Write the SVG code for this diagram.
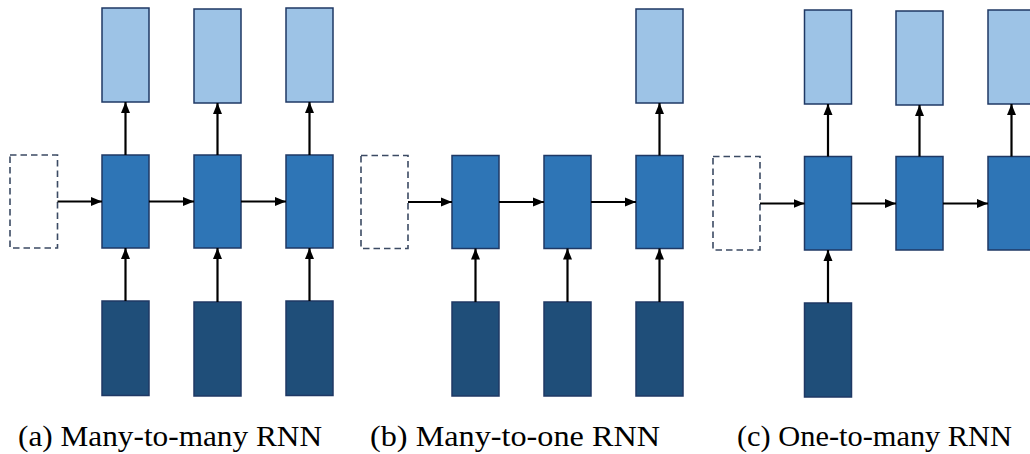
<svg xmlns="http://www.w3.org/2000/svg" width="1030" height="454" viewBox="0 0 1030 454">
  <defs>
    <marker id="arrow" markerUnits="userSpaceOnUse" markerWidth="11" markerHeight="11" viewBox="0 0 11 11" refX="11" refY="5.5" orient="auto">
      <path d="M0,1 L11,5.5 L0,10 Z" fill="#000"/>
    </marker>
    <style>
      .out { fill: #9DC3E6; stroke: #1F3864; stroke-width: 1.5; }
      .hid { fill: #2E75B6; stroke: #1F3864; stroke-width: 1.5; }
      .inp { fill: #1F4E79; stroke: #1F3864; stroke-width: 1.5; }
      .init { fill: #FFFFFF; stroke: #3B4A63; stroke-width: 1.6; stroke-dasharray: 6.5 4; }
      .edge { stroke: #000; stroke-width: 2.2; fill: none; marker-end: url(#arrow); }
      .cap { font-family: "Liberation Serif", "DejaVu Serif", serif; font-size: 29px; fill: #000; }
    </style>
  </defs>
  <rect width="1030" height="454" fill="#FFFFFF"/>

  <!-- (a) many-to-many -->
  <g id="a-init"><rect class="init" x="10" y="155" width="47.5" height="93"/></g>
  <g id="a-h1"><rect class="hid" x="102" y="155" width="47" height="93"/></g>
  <g id="a-h2"><rect class="hid" x="194" y="155" width="47" height="93"/></g>
  <g id="a-h3"><rect class="hid" x="286" y="155" width="47" height="93"/></g>
  <g id="a-y1"><rect class="out" x="102" y="8" width="47" height="94"/></g>
  <g id="a-y2"><rect class="out" x="194" y="9" width="47" height="94"/></g>
  <g id="a-y3"><rect class="out" x="286" y="8" width="47" height="94"/></g>
  <g id="a-x1"><rect class="inp" x="102" y="301" width="47" height="94.5"/></g>
  <g id="a-x2"><rect class="inp" x="194" y="302" width="47" height="94"/></g>
  <g id="a-x3"><rect class="inp" x="286" y="301" width="47" height="94.5"/></g>

  <!-- (b) many-to-one -->
  <g id="b-init"><rect class="init" x="361" y="155.5" width="47" height="93"/></g>
  <g id="b-h1"><rect class="hid" x="452" y="155.5" width="47" height="93"/></g>
  <g id="b-h2"><rect class="hid" x="544" y="155.5" width="47" height="93"/></g>
  <g id="b-h3"><rect class="hid" x="636" y="155.5" width="47" height="93"/></g>
  <g id="b-y3"><rect class="out" x="636" y="9" width="47" height="94"/></g>
  <g id="b-x1"><rect class="inp" x="452" y="302" width="47" height="94"/></g>
  <g id="b-x2"><rect class="inp" x="544" y="302" width="47" height="94"/></g>
  <g id="b-x3"><rect class="inp" x="636" y="302" width="47" height="94"/></g>

  <!-- (c) one-to-many -->
  <g id="c-init"><rect class="init" x="713" y="156.5" width="47" height="93.5"/></g>
  <g id="c-h1"><rect class="hid" x="804.5" y="156.5" width="47" height="93.5"/></g>
  <g id="c-h2"><rect class="hid" x="896" y="156.5" width="47" height="93.5"/></g>
  <g id="c-h3"><rect class="hid" x="988" y="156.5" width="47" height="93.5"/></g>
  <g id="c-y1"><rect class="out" x="804.5" y="10" width="47" height="94"/></g>
  <g id="c-y2"><rect class="out" x="896" y="11" width="47" height="94"/></g>
  <g id="c-y3"><rect class="out" x="988" y="10" width="47" height="94"/></g>
  <g id="c-x1"><rect class="inp" x="804.5" y="303" width="47" height="94"/></g>

  <g id="connectors">
    <!-- (a) -->
    <line class="edge" x1="57.5" y1="201.5" x2="102" y2="201.5"/>
    <line class="edge" x1="149" y1="201.5" x2="194" y2="201.5"/>
    <line class="edge" x1="241" y1="201.5" x2="286" y2="201.5"/>
    <line class="edge" x1="125.5" y1="301" x2="125.5" y2="248"/>
    <line class="edge" x1="217.5" y1="302" x2="217.5" y2="248"/>
    <line class="edge" x1="309.5" y1="301" x2="309.5" y2="248"/>
    <line class="edge" x1="125.5" y1="155" x2="125.5" y2="102"/>
    <line class="edge" x1="217.5" y1="155" x2="217.5" y2="103"/>
    <line class="edge" x1="309.5" y1="155" x2="309.5" y2="102"/>
    <!-- (b) -->
    <line class="edge" x1="408" y1="202" x2="452" y2="202"/>
    <line class="edge" x1="499" y1="202" x2="544" y2="202"/>
    <line class="edge" x1="591" y1="202" x2="636" y2="202"/>
    <line class="edge" x1="475.5" y1="302" x2="475.5" y2="248.5"/>
    <line class="edge" x1="567.5" y1="302" x2="567.5" y2="248.5"/>
    <line class="edge" x1="659.5" y1="302" x2="659.5" y2="248.5"/>
    <line class="edge" x1="659.5" y1="155.5" x2="659.5" y2="103"/>
    <!-- (c) -->
    <line class="edge" x1="760" y1="203.5" x2="804.5" y2="203.5"/>
    <line class="edge" x1="851.5" y1="203.5" x2="896" y2="203.5"/>
    <line class="edge" x1="943" y1="203.5" x2="988" y2="203.5"/>
    <line class="edge" x1="828" y1="303" x2="828" y2="250"/>
    <line class="edge" x1="828" y1="156.5" x2="828" y2="104"/>
    <line class="edge" x1="919.5" y1="156.5" x2="919.5" y2="105"/>
    <line class="edge" x1="1011.5" y1="156.5" x2="1011.5" y2="104"/>
  </g>

  <g id="captions">
    <text class="cap" x="18" y="446" textLength="304" lengthAdjust="spacingAndGlyphs">(a) Many-to-many RNN</text>
    <text class="cap" x="370" y="446" textLength="290" lengthAdjust="spacingAndGlyphs">(b) Many-to-one RNN</text>
    <text class="cap" x="737" y="446" textLength="275" lengthAdjust="spacingAndGlyphs">(c) One-to-many RNN</text>
  </g>
</svg>
